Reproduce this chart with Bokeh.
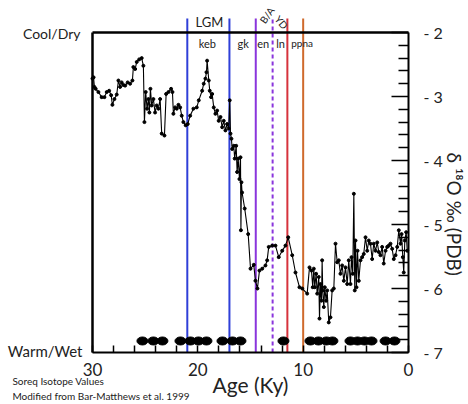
import math
from bokeh.plotting import figure
from bokeh.models import Range1d, FixedTicker, Label
from bokeh.embed import file_html
from bokeh.resources import INLINE

# ---- data ----
age = [30.0, 29.9, 29.82, 29.7, 29.44, 29.13, 28.87, 28.65, 28.42, 28.23, 28.11, 27.92, 27.7,
       27.54, 27.38, 27.23, 27.07, 26.9, 26.66, 26.43, 26.21, 26.12, 25.95, 25.8, 25.57, 25.33,
       25.17, 25.07, 24.95, 24.82, 24.69, 24.6, 24.5, 24.38, 24.22, 24.06, 23.9, 23.74, 23.58,
       23.43, 23.17, 23.01, 22.79, 22.54, 22.41, 22.32, 22.16, 22.0, 21.84, 21.68, 21.53, 21.37,
       21.15, 20.96, 20.73, 20.42, 20.1, 19.91, 19.59, 19.44, 19.28, 19.18, 19.12, 18.96, 18.87,
       18.74, 18.64, 18.49, 18.33, 18.17, 18.02, 17.85, 17.69, 17.54, 17.38, 17.22, 17.07, 16.97,
       16.9, 16.81, 16.74, 16.59, 16.5, 16.36, 16.27, 16.17, 16.05, 15.95, 15.91, 15.86, 15.8,
       15.55, 15.22, 15.0, 14.69, 14.53, 14.34, 14.15, 13.89, 13.58, 13.42, 13.27, 12.94, 12.63,
       12.32, 11.99, 11.68, 11.42, 11.04, 10.73, 10.35, 10.09, 9.62, 9.4, 9.21, 9.09, 8.99, 8.9,
       8.77, 8.67, 8.52, 8.45, 8.36, 8.26, 8.2, 8.14, 8.04, 7.95, 7.82, 7.72, 7.57, 7.41, 7.25,
       7.09, 6.93, 6.77, 6.62, 6.46, 6.3, 6.14, 5.98, 5.82, 5.67, 5.51, 5.41, 5.29, 5.19, 5.1,
       5.03, 4.94, 4.84, 4.72, 4.56, 4.4, 4.25, 4.08, 3.92, 3.77, 3.61, 3.45, 3.3, 3.13, 2.97,
       2.82, 2.66, 2.5, 2.35, 2.18, 2.02, 1.87, 1.71, 1.55, 1.4, 1.23, 1.07, 0.92, 0.76, 0.66,
       0.54, 0.45, 0.35, 0.22, 0.12]
d18o = [-2.72, -2.70, -2.85, -2.88, -2.93, -3.01, -3.01, -2.93, -2.91, -2.98, -3.13, -3.04, -2.97,
        -2.75, -2.85, -2.78, -2.82, -2.83, -2.78, -2.80, -2.75, -2.54, -2.57, -2.46, -2.42, -2.40,
        -2.52, -3.40, -2.93, -3.19, -3.04, -3.25, -2.88, -3.14, -3.04, -3.25, -3.14, -3.19, -3.04,
        -3.58, -3.61, -2.96, -2.93, -2.88, -2.93, -3.27, -3.17, -3.19, -3.13, -3.17, -3.30, -3.40,
        -3.45, -3.43, -3.30, -3.19, -3.17, -3.06, -2.91, -2.80, -2.72, -2.62, -2.44, -2.75, -2.91,
        -3.01, -2.96, -3.17, -3.27, -3.22, -3.38, -3.32, -3.48, -3.38, -3.53, -3.43, -3.50, -3.06,
        -3.58, -3.66, -3.82, -3.77, -3.97, -3.77, -4.18, -3.97, -4.29, -3.95, -5.09, -4.34, -4.50,
        -4.75, -5.15, -5.69, -5.63, -5.88, -6.00, -5.72, -5.69, -5.64, -5.56, -5.35, -5.33, -5.33,
        -5.51, -5.41, -5.33, -5.20, -5.48, -5.75, -5.98, -6.00, -6.08, -5.67, -5.72, -5.98, -5.69, -5.98,
        -5.77, -6.08, -5.82, -6.47, -5.93, -6.19, -5.56, -6.03, -6.29, -5.98, -6.19, -6.03, -6.53, -6.45, -6.03,
        -6.00, -5.30, -5.59, -5.56, -5.77, -5.64, -5.88, -5.67, -5.93, -5.56, -5.93, -5.51, -5.77, -4.52, -6.03,
        -5.25, -5.98, -5.41, -5.88, -5.56, -5.51, -5.46, -5.20, -5.41, -5.25, -5.30, -5.54, -5.30, -5.41, -5.28,
        -5.43, -5.48, -5.35, -5.61, -5.41, -5.35, -5.33, -5.30, -5.38, -5.54, -5.48, -5.35, -5.09, -5.30, -5.15,
        -5.51, -5.75, -5.25, -5.12, -5.41]

date_ages = [25.26, 24.22, 23.36, 21.65, 20.70, 19.94, 19.18, 17.66, 16.71, 15.95, 11.87,
             9.31, 8.55, 7.79, 7.22, 5.51, 4.84, 4.18, 3.51, 2.18, 1.33]
date_level = [-6.82] * len(date_ages)

event_ages = [21.0, 17.0, 14.5, 12.9, 11.5, 10.0]
event_colors = ["#2f3fd8", "#2f3fd8", "#8a35dc", "#8a35dc", "#d6323c", "#cf6a2c"]
event_dashes = ["solid", "solid", "solid", "4 3", "solid", "solid"]

period_names = ["keb", "gk", "en", "ln", "ppna"]
period_ages = [19.1, 15.7, 13.8, 12.15, 10.1]

x_major = [30, 20, 10, 0]
x_minor = [28, 26, 24, 22, 18, 16, 14, 12, 8, 6, 4, 2]
y_major = [-2, -3, -4, -5, -6, -7]
y_minor = [round(-2 - 0.2 * i, 1) for i in range(1, 25) if i % 5 != 0]

FONT = "Lato"
TXT = "#222222"
W, H = 468, 404

# frame covers the whole canvas; axes are pinned at the data box edges
p = figure(width=W, height=H, x_range=Range1d(38.734, -5.696), y_range=Range1d(-7.8125, -1.5),
           output_backend="svg", toolbar_location=None, y_axis_location="right",
           min_border_left=0, min_border_right=0, min_border_top=0, min_border_bottom=0)
p.xgrid.visible = False
p.ygrid.visible = False
p.outline_line_color = None

# event lines
for a, c, dsh in zip(event_ages, event_colors, event_dashes):
    p.segment(x0=[a], y0=[-7], x1=[a], y1=[-1.78], line_color=c, line_width=2, line_dash=dsh)

# frame lines (top and left)
p.segment(x0=[30], y0=[-2], x1=[0], y1=[-2], line_color="black", line_width=2.5)
p.segment(x0=[30], y0=[-7], x1=[30], y1=[-2], line_color="black", line_width=2.5)

# isotope record
p.line(age, d18o, line_color="black", line_width=1.1)
p.scatter(age, d18o, size=3, color="black")

# dates
p.ellipse(x=date_ages, y=date_level, width=11, height=8, width_units="screen",
          height_units="screen", color="black")

# x axis
xa = p.xaxis[0]
xa.fixed_location = -7
xa.bounds = (0, 30)
xa.ticker = FixedTicker(ticks=x_major, minor_ticks=x_minor)
xa.axis_line_width = 2
xa.major_tick_in = 7
xa.major_tick_out = 0
xa.minor_tick_in = 7
xa.minor_tick_out = 0
xa.major_tick_line_width = 1.5
xa.minor_tick_line_width = 1.5
xa.major_label_standoff = 10
xa.major_label_text_font = FONT
xa.major_label_text_font_size = "17px"
xa.major_label_text_color = TXT

# y axis (right)
ya = p.yaxis[0]
ya.fixed_location = 0
ya.bounds = (-7, -2)
ya.ticker = FixedTicker(ticks=y_major, minor_ticks=y_minor)
ya.axis_line_width = 2
ya.major_tick_in = 17
ya.major_tick_out = 0
ya.minor_tick_in = 10
ya.minor_tick_out = 0
ya.major_tick_line_width = 1.5
ya.minor_tick_line_width = 1.5
ya.major_label_standoff = 15
ya.major_label_overrides = {v: "- %d" % abs(v) for v in y_major}
ya.major_label_text_font = FONT
ya.major_label_text_font_size = "16px"
ya.major_label_text_color = TXT

def lab(x, y, text, size, align="center", angle=0.0):
    p.add_layout(Label(x=x, y=y, text=text, text_font=FONT, text_font_size=size,
                       text_color=TXT, text_align=align, text_baseline="middle",
                       angle=angle))

lab(31.14, -2.02, "Cool/Dry", "14px", align="right")
lab(30.95, -6.97, "Warm/Wet", "15px", align="right")
lab(15.0, -7.5, "Age (Ky)", "21px")
lab(37.6, -7.453, "Soreq Isotope Values", "10px", align="left")
lab(37.6, -7.685, "Modified from Bar-Matthews et al. 1999", "10px", align="left")
lab(-4.4, -4.84, "δ ¹⁸O ‰ (PDB)", "19px", angle=-math.pi / 2)

lab(18.9, -1.84, "LGM", "13px")
lab(13.45, -1.73, "B/A", "10px", angle=math.radians(55))
lab(12.05, -1.84, "YD", "10px", angle=math.radians(-50))
for n, a in zip(period_names, period_ages):
    lab(a, -2.17, n, "10px" if n == "ppna" else "11px")

open("out.html", "w").write(file_html(p, INLINE))
